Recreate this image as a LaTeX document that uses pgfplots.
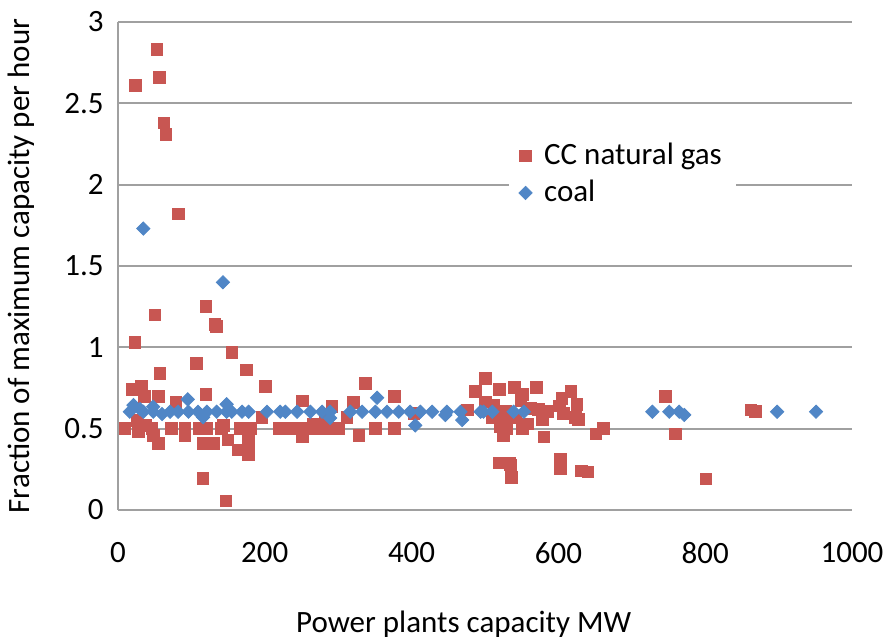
\documentclass[border=0pt]{standalone}
\usepackage{fontspec}
\setmainfont{Carlito}
\usepackage{pgfplots}
\pgfplotsset{compat=1.18}
\definecolor{gasred}{RGB}{200,86,82}
\definecolor{coalblue}{RGB}{80,134,198}
\definecolor{gridgray}{RGB}{160,160,160}

\begin{document}
\fontsize{15.5}{18}\selectfont
\begin{tikzpicture}
\begin{axis}[
    scale only axis,
    width=367pt, height=244pt,
    xmin=0, xmax=1000, ymin=0, ymax=3,
    xtick={0,200,400,600,800,1000},
    ytick={0,0.5,1,1.5,2,2.5,3},
    axis x line*=bottom, axis y line*=left,
    axis line style={gridgray, line width=0.9pt},
    ymajorgrids,
    grid style={gridgray, line width=0.9pt},
    major tick length=0pt,
    /pgf/number format/assume math mode=true,
    /pgf/number format/1000 sep={},
    tick label style={font=\fontsize{15.5}{18}\selectfont},
    yticklabel style={anchor=east, inner sep=0pt, xshift=-7pt},
    xticklabel style={anchor=north, inner sep=0pt, yshift=-16pt},
    xlabel={Power plants capacity MW},
    xlabel style={at={(rel axis cs:0.471,-0.2512)}, anchor=base, inner sep=0pt},
    ylabel={Fraction of maximum capacity per hour},
    ylabel style={at={(rel axis cs:-0.15,0.5)}, anchor=north, inner sep=0pt},
    legend style={at={(rel axis cs:0.532,0.778)}, anchor=north west,
        draw=none, fill=white, font=\fontsize{15.5}{18}\selectfont,
        inner xsep=5pt, inner ysep=4pt, row sep=1.5pt, column sep=4pt},
    legend cell align=left,
]
% CC natural gas
\addplot[only marks, mark=square*, mark size=2.9pt,
    mark options={draw=gasred, fill=gasred}]
coordinates {
    (52.8,2.83) (56.3,2.66) (23.6,2.61) (62.8,2.38) (65,2.31) (82,1.82)
    (120,1.25) (50.5,1.20) (132,1.14) (134,1.13) (23,1.03) (155,0.97)
    (175,0.86) (107,0.90) (57,0.84) (200.5,0.76) (18.7,0.74) (32,0.76)
    (36,0.70) (55,0.70) (120,0.71) (79,0.66) (25.5,0.55) (196,0.57)
    (144,0.52)
    (9.5,0.50) (27.7,0.50) (46,0.50) (73,0.50) (91,0.50) (110,0.50)
    (121,0.50) (141,0.50) (166,0.50) (180,0.50) (219,0.50) (237,0.50)
    (248,0.50) (28,0.48) (38,0.52)
    (48,0.46) (91,0.46) (55,0.41) (116,0.41) (130,0.41) (178,0.41)
    (150,0.43) (164,0.37) (178,0.34) (178,0.44) (115.5,0.195) (147,0.057)
    (337,0.78) (251,0.67) (321,0.66) (376.5,0.70) (291.5,0.635)
    (403,0.595) (266,0.53) (282,0.55)
    (228,0.50) (239,0.50) (251,0.50) (262,0.50) (276,0.50) (289,0.50)
    (301,0.50) (351,0.50) (376.5,0.50) (328,0.46) (251,0.45) (312,0.57)
    (500.7,0.81) (487,0.73) (520,0.74) (540,0.755) (570,0.755) (551,0.71)
    (500.7,0.665) (512,0.645) (549,0.675) (605,0.685) (617,0.73)
    (625,0.65) (601,0.64) (562,0.625) (573,0.62) (585,0.605) (607,0.595)
    (476,0.615) (528,0.605) (541.6,0.57) (578,0.555) (510,0.57)
    (526,0.555) (530,0.50) (521,0.51) (525,0.46) (551,0.50) (557.6,0.53)
    (580,0.45) (623.5,0.57) (627,0.557) (651,0.467) (661,0.50)
    (520,0.29) (534,0.285) (535,0.277) (536,0.20) (603,0.31) (603,0.255)
    (631,0.24) (640,0.235) (746,0.70) (759,0.467) (862,0.615) (868,0.605)
    (801,0.19)
};
\addlegendentry{CC natural gas}
% coal
\addplot[only marks, mark=square*, mark size=2.35pt,
    mark options={rotate=45, draw=coalblue, fill=coalblue}]
coordinates {
    (16,0.604) (34.5,0.604) (48,0.604) (71,0.604) (82,0.604) (96,0.604)
    (109,0.604) (121,0.604) (134.5,0.604) (148,0.604) (155,0.604)
    (169,0.604) (178,0.604) (203,0.604) (221,0.604) (228,0.604)
    (244,0.604) (262,0.604) (278,0.604) (289,0.604) (316.5,0.604)
    (332.5,0.604) (350.6,0.604) (366.5,0.604) (382.5,0.604) (398,0.604)
    (412,0.604) (428,0.604) (448,0.604) (466.6,0.604) (494,0.604)
    (498,0.604) (510,0.604) (539,0.604) (553,0.604) (728,0.604)
    (751,0.604) (764.6,0.604) (898,0.604) (951,0.604) (771.5,0.584)
    (116,0.57) (148,0.65) (21,0.645) (143,1.40) (34.5,1.73) (95,0.68)
    (353,0.69) (289,0.565) (405,0.52) (469,0.553) (446,0.584)
    (48,0.635) (30,0.62) (60,0.59)
};
\addlegendentry{coal}
\coordinate (sw) at (rel axis cs:0,0);
\coordinate (ne) at (rel axis cs:1,1);
\end{axis}
\pgfresetboundingbox
\path[use as bounding box] ([xshift=-59pt,yshift=-65pt]sw) rectangle ([xshift=16.5pt,yshift=11pt]ne);
\end{tikzpicture}
\end{document}
